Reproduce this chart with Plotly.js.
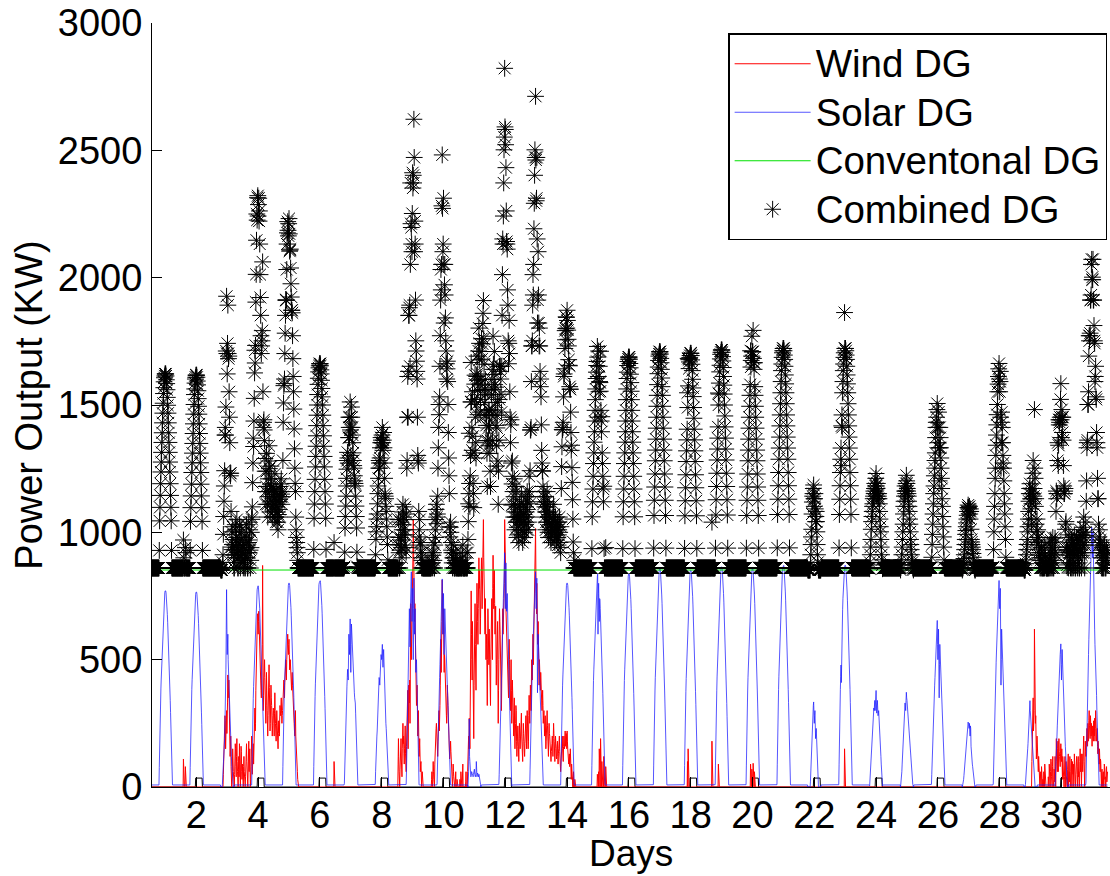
<!DOCTYPE html>
<html><head><meta charset="utf-8">
<script src="https://cdn.plot.ly/plotly-3.0.1.min.js"></script>
<style>html,body{margin:0;padding:0;background:#fff;}#chart{width:1110px;height:876px;}</style>
</head><body><div id="chart"></div>
<script>
// ---- data ----
const days = [1,2,3,4,5,6,7,8,9,10,11,12,13,14,15,16,17,18,19,20,21,22,23,24,25,26,27,28,29,30,31];
const slotsPerDay = 96;            // quarter-hour samples
const solarFirstSlot = 28;         // first daylight sample (07:00)
const solarNightKW = 8;
const conventionalKW = 852;

// solar output, daylight quarter-hour samples 07:00 .. 17:00 (kW)
const solarDaylightKW = [
 [8,77,193,246,293,339,385,424,462,501,539,578,616,655,693,716,739,755,762,770,770,770,762,747,732,708,678,647,616,578,539,501,462,424,385,339,293,246,193,77,8],
 [8,77,191,245,291,337,383,421,459,497,536,574,612,650,689,711,734,750,757,765,765,765,757,742,727,704,673,643,612,574,536,497,459,421,383,337,291,245,191,77,8],
 [0,0,0,0,0,10,30,60,90,120,150,170,190,250,300,380,460,620,775,640,520,560,600,500,450,420,400,350,300,260,220,180,150,120,90,60,40,20,10,0,0],
 [8,79,198,253,300,348,395,435,474,514,553,593,632,672,711,735,758,774,782,790,790,785,770,750,730,700,660,620,580,540,500,460,420,380,340,300,260,220,170,70,8],
 [8,80,200,256,304,352,400,440,480,520,560,600,640,680,720,744,768,784,792,800,800,800,792,776,760,736,704,672,640,600,560,520,480,440,400,352,304,256,200,80,8],
 [8,81,203,259,308,356,405,446,486,527,567,608,648,689,729,753,778,794,802,810,810,810,802,786,770,745,713,680,648,608,567,527,486,446,405,356,308,259,203,81,8],
 [13,70,165,210,251,290,330,360,396,430,462,440,420,520,600,560,520,600,660,550,450,560,640,600,560,530,500,460,430,410,400,370,350,340,330,290,251,210,165,70,13],
 [10,60,120,150,170,200,220,260,300,330,360,400,430,420,400,440,480,500,520,510,500,530,560,500,470,510,540,480,420,360,300,290,280,250,230,200,170,130,100,40,8],
 [10,60,150,230,300,380,450,520,600,650,700,620,550,700,800,760,845,720,650,700,780,600,500,700,820,740,600,650,700,560,450,480,500,420,350,300,250,180,120,50,10],
 [12,80,170,220,260,300,350,390,430,480,520,560,600,650,700,780,817,700,600,680,760,640,520,600,700,660,640,600,560,530,500,460,420,380,330,290,240,200,150,60,10],
 [0,20,60,150,267,120,100,70,50,40,45,60,60,50,50,45,40,50,55,60,70,50,45,40,50,60,100,60,40,50,55,50,45,40,50,45,40,30,20,10,0],
 [10,50,100,150,200,260,300,310,320,380,450,520,600,680,740,800,850,900,920,760,700,820,880,760,690,720,760,680,590,520,460,430,400,350,300,250,200,150,90,40,5],
 [10,70,150,200,260,320,380,430,480,520,560,600,650,700,740,770,800,820,845,760,700,780,820,600,370,500,600,560,520,480,450,420,380,340,300,260,220,170,120,50,8],
 [8,80,200,256,304,352,400,440,480,520,560,600,640,680,720,744,768,784,792,800,800,800,792,776,760,736,704,672,640,600,560,520,480,440,400,352,304,256,200,80,8],
 [8,84,209,268,318,368,418,460,502,543,585,627,669,711,752,777,803,819,828,836,600,760,800,700,650,740,736,702,669,627,585,543,502,460,418,368,318,268,209,84,8],
 [8,84,209,268,318,368,418,460,502,543,585,627,669,711,752,777,803,819,828,836,836,836,828,811,794,769,736,702,669,627,585,543,502,460,418,368,318,268,209,84,8],
 [9,86,214,274,326,377,429,471,514,557,600,643,686,728,771,797,823,840,848,857,857,857,848,831,814,788,754,720,686,643,600,557,514,471,429,377,326,274,214,86,9],
 [9,85,213,272,323,374,426,468,511,553,596,638,681,723,766,791,817,834,842,851,851,851,842,825,808,783,749,715,681,638,596,553,511,468,426,374,323,272,213,85,9],
 [9,86,216,276,328,380,432,475,518,562,605,648,691,734,778,804,829,847,855,864,864,864,855,838,821,795,760,726,691,648,605,562,518,475,432,380,328,276,216,86,9],
 [9,86,214,274,326,377,429,471,514,557,600,643,686,728,771,797,823,840,848,857,857,857,848,831,814,788,754,720,686,643,600,557,514,471,429,377,326,274,214,86,9],
 [9,87,218,278,331,383,435,479,522,566,609,653,696,740,783,809,835,853,861,870,870,870,861,844,827,800,766,731,696,653,609,566,522,479,435,383,331,278,218,87,9],
 [0,0,0,0,0,0,0,0,20,60,100,130,160,220,267,290,300,320,334,280,250,280,300,240,190,210,230,190,150,100,60,30,10,0,0,0,0,0,0,0,0],
 [9,87,218,278,331,383,435,479,410,566,609,560,696,740,783,809,835,853,861,870,870,870,861,844,827,800,766,731,696,653,609,566,522,479,435,383,331,278,218,87,9],
 [5,30,60,90,120,160,190,210,230,250,260,280,290,310,300,320,340,300,330,360,379,330,290,320,340,300,280,290,300,280,260,230,200,170,150,120,90,60,40,20,5],
 [0,10,20,40,60,90,120,150,180,220,250,270,290,310,330,310,300,340,372,350,340,320,310,300,290,270,250,230,200,180,150,120,100,80,60,40,30,20,10,5,0],
 [10,50,100,140,180,220,260,300,330,370,400,430,460,520,560,580,600,630,654,560,500,560,620,480,350,480,560,520,480,440,400,360,320,280,250,210,170,130,90,40,10],
 [0,5,10,20,30,45,60,80,100,120,140,155,170,185,200,215,230,245,255,245,240,230,250,220,200,240,230,160,120,110,100,90,80,65,50,35,20,10,5,0,0],
 [12,80,150,200,250,300,360,400,450,490,530,570,610,650,700,730,760,790,811,750,700,740,780,600,400,500,620,580,560,500,450,420,400,350,300,260,220,170,120,50,10],
 [0,0,0,0,10,25,40,60,80,100,120,150,170,200,230,270,300,320,339,300,280,240,200,180,160,140,120,100,80,60,40,20,10,0,0,0,0,0,0,0,0],
 [5,30,60,90,120,160,200,240,280,320,350,380,400,430,460,500,520,540,562,480,420,480,540,510,480,420,360,330,300,260,230,200,160,120,90,60,40,20,10,5,0],
 [15,100,200,250,300,350,400,460,520,580,620,660,700,740,780,830,880,950,1020,980,950,900,1000,880,800,750,700,620,560,530,500,460,420,360,300,250,200,150,100,40,10]
];

// wind output on windy days, 96 quarter-hour samples per day (kW)
const windDays = [3,4,5,9,10,11,12,13,14,29,30,31];
const windKW = [
 [0,0,0,0,0,0,0,0,0,0, 0,0,0,0,0,0,0,0,0,0, 0,0,0,0,0,0,0,0,0,0, 0,0,0,0,0,0,
  50,90,120,160,200,280,260,150,180,240,300,210,250,330,440,350,380,420,300,250,200,120,150,200,80,30,0,20,60,150,110,60,30,0,0,50,90,170,150,80,40,120,190,100,60,0,0,70,120,40,170,110,50,0,90,160,140,60,30,90],
 [60,20,0,80,120,60,30,0,0,40, 90,130,170,100,40,0,0,60,100,180, 60,110,150,70,0,30,80,140,200,120, 50,90,120,170,90,150,200,260,310,220,
  250,380,450,560,640,600,680,680,600,650, 690,620,680,580,500,450,420,380,350,420, 480,560,870,400,300,360,420,480,500,430,
  380,300,250,320,450,380,300,250,200,280, 350,420,480,390,300,220,250,330,400,350, 320,260,200,240,280,310],
 [300,250,200,290,370,300,250,200,180,240, 300,260,220,180,150,210,260,230,200,270, 320,300,280,330,350,290,250,280,300,350,
  380,400,420,380,350,410,450,480,500,460, 420,500,560,580,600,550,520,560,580,520, 460,480,500,450,420,400,380,420,450,400,
  350,320,300,280,250,220,200,260,300,200, 150,120,100,80,60,30,0,0,0,0, 0,0,0,0,0,0,0,0,0,0, 0,0,0,0,0,0],
 [0,0,0,90,190,120,60,0,0,70, 120,180,190,110,80,40,150,220,250,170, 200,130,90,150,190,240,130,80,60,160,
  250,200,300,380,150,260,400,350,330,420, 250,500,720,600,500,560,600,700,780,900, 1050,820,950,880,650,720,580,500,450,380,
  320,360,400,300,200,250,300,180,120,150, 190,100,60,90,100,40,0,30,60,0, 0,0,0,0,0,0,0,0,0,0, 0,0,0,0,0,0],
 [0,0,0,0,0,0,0,0,0,0, 0,30,60,20,0,50,100,60,30,0, 0,90,150,120,190,230,250,200,170,140,
  120,180,220,260,300,220,250,320,400,500, 580,450,500,650,813,720,650,600,700,560, 450,520,500,420,350,300,300,280,250,330,
  400,360,320,250,200,170,150,110,120,160, 180,140,100,70,60,20,0,40,90,60, 40,0,0,0,0,30,60,0,0,0, 30,0,0,0,0,0],
 [0,0,0,30,0,0,60,0,0,0, 0,40,90,0,0,0,0,0,0,0, 0,20,60,0,0,0,0,60,120,170,
  200,150,270,220,150,300,400,620,770,600, 500,420,650,480,300,250,190,400,600,680, 720,560,450,380,550,700,800,720,650,560,
  700,820,900,780,850,700,600,660,750,850, 900,820,700,880,960,1000,1050,900,800,700, 650,600,740,680,500,560,600,450,320,500, 700,620,550,480,620,560],
 [450,380,320,500,600,680,740,620,500,780, 910,800,700,760,850,720,600,650,710,560, 400,480,550,600,650,420,250,380,500,620,
  700,650,600,520,450,380,300,420,550,640, 700,600,650,720,800,800,1050,980,1030,850, 700,650,600,560,500,420,450,380,350,460,
  580,500,400,350,300,420,500,380,250,330, 420,360,300,250,200,280,350,220,150,200, 250,320,300,180,120,160,200,240,180,130, 100,190,250,200,150,220],
 [200,250,290,200,150,120,100,180,250,210, 180,140,120,170,200,240,280,220,150,230, 300,260,200,150,180,280,360,300,250,320,
  400,350,300,420,500,450,420,520,600,480, 550,640,700,780,850,800,1015,850,750,680, 800,700,600,560,650,520,450,400,500,460,
  400,380,450,420,350,300,300,340,380,320, 250,280,300,260,200,240,280,220,150,180, 220,260,300,240,180,140,120,200,250,210, 200,170,150,120,100,140],
 [150,170,200,160,120,190,250,210,180,130, 100,150,200,170,150,110,120,160,180,120, 90,130,150,180,200,140,100,80,60,90,
  120,150,180,200,150,120,100,160,200,170, 150,190,220,160,180,210,200,150,220,180, 150,130,120,90,100,130,80,110,150,100,
  60,30,90,50,40,20,0,30,60,0, 0,0,30,0,0,0,0,0,0,0, 0,0,0,0,0,0,0,0,0,0, 0,0,0,0,0,0],
 [0,0,0,0,0,0,0,0,0,0, 0,0,0,0,0,0,0,0,0,0, 0,0,0,0,0,0,0,0,0,0, 0,0,0,0,0,0,0,0,0,0, 0,0,0,0,0,0,0,0,0,0, 0,0,
  100,160,200,280,350,220,250,300,620,400,360,250,280,180,110,150,200,120,150,90,60,120,100,50,40,0,60,30,0,0,80,40,0,0,30,0,0,60,0,0,90,50,40,20],
 [0,0,0,0,0,0,0,40,0,0, 90,30,0,0,60,110,100,40,0,0, 80,120,30,0,0,70,60,20,120,80,
  0,140,190,120,100,60,150,180,60,110, 190,140,120,90,80,130,170,110,100,150, 60,30,120,90,50,0,0,40,80,120,
  0,60,100,30,40,0,0,70,90,130, 0,50,60,20,120,60,0,40,80,110, 0,0,100,60,50,90,0,20,130,80, 60,0,0,50,90,120],
 [100,50,0,80,120,40,60,0,0,100, 150,60,90,130,0,50,130,90,60,120, 160,200,100,60,0,90,180,140,120,170,
  150,230,200,160,250,190,180,260,300,240, 220,190,280,230,200,250,200,160,200,240, 220,180,260,210,200,270,180,230,300,220,
  250,180,200,230,160,130,180,140,120,90, 150,100,60,110,100,40,0,60,70,0, 0,50,60,0,0,90,80,30,40,0, 0,70,80,20,30,60]
];

// isolated small wind spikes on otherwise calm days
const windSpikeDay  = [2,2,2,2,6,15,15,15,15,15,15,15,18,18,18,19,19,20,20,20,20,23];
const windSpikeSlot = [8,9,14,16,92,46,50,52,56,60,66,72,38,40,42,18,38,42,46,50,54,46];
const windSpikeKW   = [110,40,80,60,100,50,60,150,190,100,120,80,100,150,60,180,90,90,70,93,60,150];

// small black marker line near zero
const pulseDays = [2,4,6,8,10,12,14,16,18,20,22,24,26,28,30];
const pulseFirstSlot = 46, pulseLastSlot = 66;
const pulseKW = 35;

const seriesNames = ['Wind DG', 'Solar DG', 'Conventonal DG', 'Combined DG'];
const xTickValues = [2,4,6,8,10,12,14,16,18,20,22,24,26,28,30];
const yTickValues = [0,500,1000,1500,2000,2500,3000];

// ---- build series on the quarter-hour time grid ----
const t = [], wind = [], solar = [], conv = [], combined = [], pulse = [];
days.forEach((d, di) => {
  const wi = windDays.indexOf(d);
  const isPulse = pulseDays.indexOf(d) >= 0;
  for (let k = 0; k < slotsPerDay; k++) {
    t.push(d - 0.5 + k / slotsPerDay);
    const si = k - solarFirstSlot;
    const s = (si >= 0 && si < solarDaylightKW[di].length) ? solarDaylightKW[di][si] : solarNightKW;
    let w = wi >= 0 ? (windKW[wi][k] || 0) : 0;
    for (let j = 0; j < windSpikeDay.length; j++) {
      if (windSpikeDay[j] === d && windSpikeSlot[j] === k) w = windSpikeKW[j];
    }
    solar.push(s); wind.push(w); conv.push(conventionalKW);
    combined.push(conventionalKW + s + w);
    pulse.push(isPulse && k >= pulseFirstSlot && k <= pulseLastSlot ? pulseKW : 0);
  }
});

const FONT = 'Liberation Sans, Arial, Helvetica, sans-serif';
const legendName = s => '<span style="font-size:38.5px">' + s + '</span>';
const traces = [
  {x: t, y: pulse, type: 'scatter', mode: 'lines', line: {color: '#000000', width: 1}, showlegend: false, hoverinfo: 'skip'},
  {x: t, y: wind, type: 'scatter', mode: 'lines', name: legendName(seriesNames[0]), line: {color: '#ff0000', width: 1}},
  {x: t, y: solar, type: 'scatter', mode: 'lines', name: legendName(seriesNames[1]), line: {color: 'rgba(30,30,255,0.75)', width: 1}},
  {x: t, y: conv, type: 'scatter', mode: 'lines', name: legendName(seriesNames[2]), line: {color: '#00e000', width: 1}},
  {x: t, y: combined, type: 'scatter', mode: 'markers', name: legendName(seriesNames[3]),
   marker: {symbol: 'asterisk-open', size: 14, color: '#000000', line: {color: '#000000', width: 1}}}
];

const layout = {
  width: 1110, height: 876,
  margin: {l: 152, r: 0, t: 23, b: 89, pad: 0},
  paper_bgcolor: '#ffffff', plot_bgcolor: '#ffffff',
  font: {family: FONT, size: 38, color: '#000000'},
  showlegend: true,
  legend: {x: 0.997, xanchor: 'right', y: 0.9869, yanchor: 'top', bgcolor: '#ffffff',
           bordercolor: '#000000', borderwidth: 1.5, font: {family: FONT, size: 35, color: '#000000'},
           itemwidth: 76, entrywidth: 307, tracegroupgap: 0},
  xaxis: {range: [0.566, 31.57], tickmode: 'array', tickvals: xTickValues, ticktext: xTickValues.map(String),
          ticks: 'inside', ticklen: 10, tickwidth: 1, tickcolor: '#000000', ticklabelstandoff: -6,
          showline: true, linecolor: '#000000', linewidth: 1, showgrid: false, zeroline: false,
          tickfont: {family: FONT, size: 38, color: '#000000'}},
  yaxis: {range: [0, 3000], tickmode: 'array', tickvals: yTickValues, ticktext: yTickValues.map(String),
          ticks: 'inside', ticklen: 10, tickwidth: 1, tickcolor: '#000000',
          showline: true, linecolor: '#000000', linewidth: 1, showgrid: false, zeroline: false,
          tickfont: {family: FONT, size: 38, color: '#000000'}, ticklabelstandoff: 1,
          title: {text: 'Power Output (KW)', font: {family: FONT, size: 38, color: '#000000'}, standoff: 3}},
  annotations: [
    {text: 'Days', xref: 'paper', yref: 'paper', x: 0.5, y: -0.087, xanchor: 'center', yanchor: 'middle',
     showarrow: false, font: {family: FONT, size: 37, color: '#000000'}}
  ]
};

Plotly.newPlot('chart', traces, layout, {staticPlot: true, displayModeBar: false});
</script>
</body></html>
